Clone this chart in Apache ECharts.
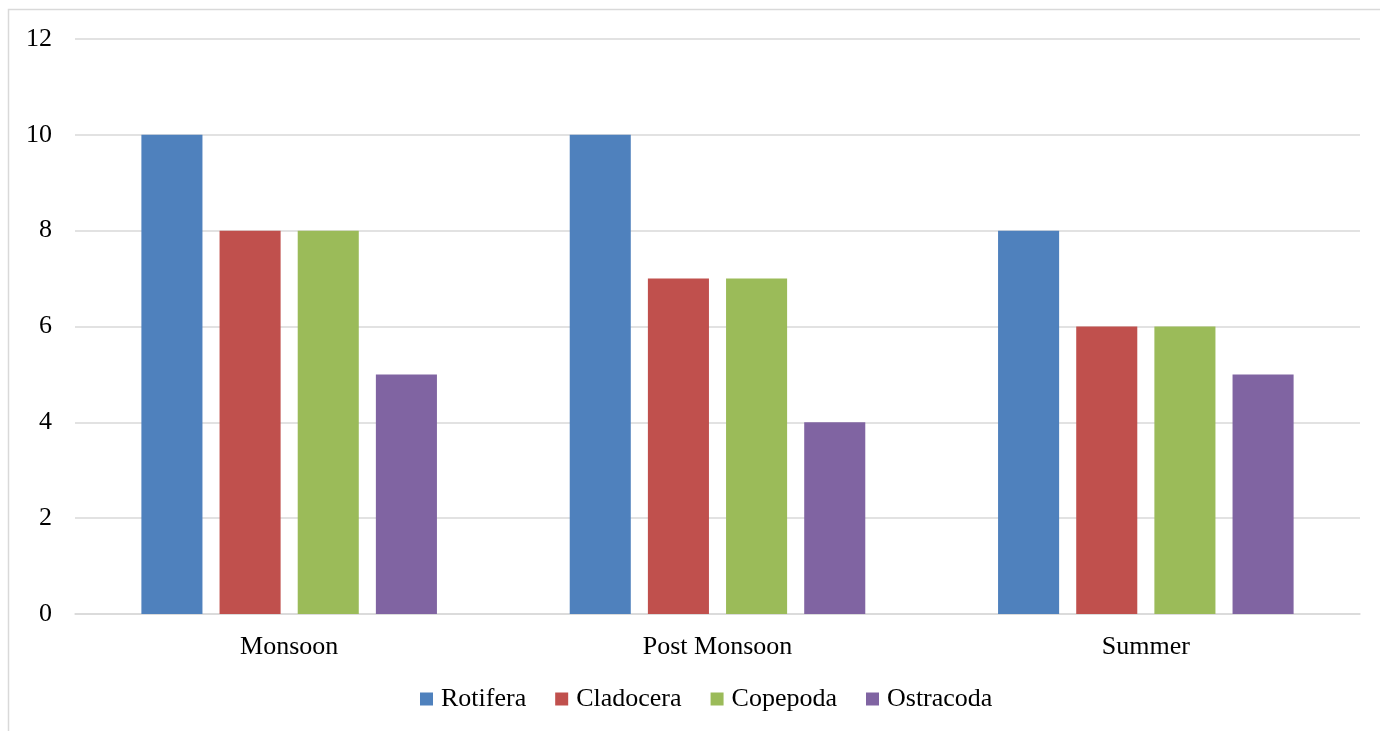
<!DOCTYPE html>
<html><head><meta charset="utf-8">
<script src="https://cdn.jsdelivr.net/npm/echarts@6/dist/echarts.min.js"></script>
<style>html,body{margin:0;padding:0;background:#fff}#c{width:1380px;height:731px}</style>
</head><body><div id="c"></div>
<script>
const categories = ['Monsoon', 'Post Monsoon', 'Summer'];
const seriesNames = ['Rotifera', 'Cladocera', 'Copepoda', 'Ostracoda'];
const rotifera = [10, 10, 8];
const cladocera = [8, 7, 6];
const copepoda = [8, 7, 6];
const ostracoda = [5, 4, 5];
const colors = ['#4F81BD', '#C0504D', '#9BBB59', '#8064A2'];
const values = [rotifera, cladocera, copepoda, ostracoda];
const font = '"Liberation Serif", "Times New Roman", serif';

const chart = echarts.init(document.getElementById('c'));
chart.setOption({
  animation: false,
  textStyle: { fontFamily: font },
  graphic: [{
    type: 'rect', shape: { x: 8.5, y: 9.5, width: 1400, height: 800 },
    style: { fill: 'none', stroke: '#d9d9d9', lineWidth: 1.5 }, silent: true, z: -1
  }],
  grid: { left: 75, right: 20, top: 39, bottom: 117, containLabel: false },
  legend: {
    bottom: 14, left: 415, itemWidth: 13, itemHeight: 13, itemGap: 29,
    icon: 'rect',
    textStyle: { fontFamily: font, fontSize: 26, color: '#000', padding: [0, 0, 0, 3] },
    data: seriesNames
  },
  xAxis: {
    type: 'category', data: categories,
    axisLine: { lineStyle: { color: '#d9d9d9', width: 1.5 } },
    axisTick: { show: false },
    axisLabel: { fontFamily: font, fontSize: 26, color: '#000', margin: 20 }
  },
  yAxis: {
    type: 'value', min: 0, max: 12, interval: 2,
    axisLine: { show: false }, axisTick: { show: false },
    splitLine: { lineStyle: { color: '#d9d9d9', width: 1.5 } },
    axisLabel: { fontFamily: font, fontSize: 26, color: '#000', margin: 23 }
  },
  series: seriesNames.map((n, i) => ({
    name: n, type: 'bar', data: values[i],
    itemStyle: { color: colors[i] },
    barGap: '28%', barCategoryGap: '31%'
  }))
});
</script></body></html>
